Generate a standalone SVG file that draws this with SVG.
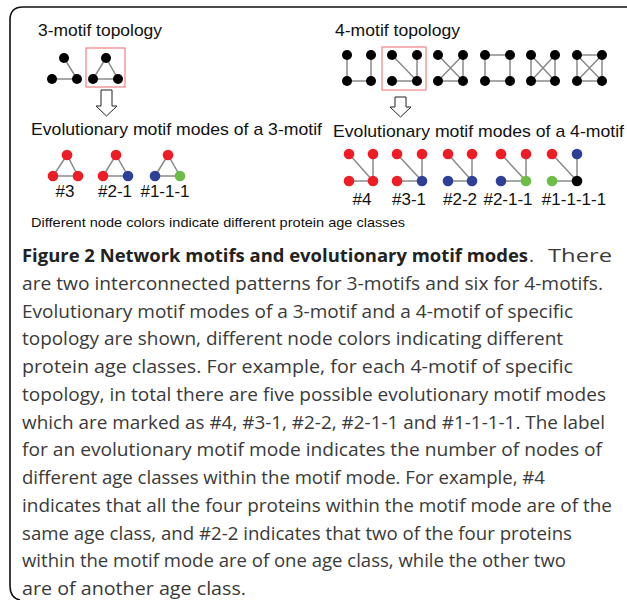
<svg xmlns="http://www.w3.org/2000/svg" width="627" height="600" viewBox="0 0 627 600">
<style>
.lbl{font-family:"Liberation Sans",Arial,sans-serif;font-size:17px;fill:#111}
.sm{font-family:"Liberation Sans",Arial,sans-serif;font-size:13px;fill:#111}
.cap{font-family:"Open Sans","Noto Sans",sans-serif;font-size:19px;fill:#3a3a3a}
.b{font-weight:bold;fill:#222;font-size:18.5px}
.e{stroke:#8a8a8a;stroke-width:1.5;fill:none}
.n{fill:#000}
.r{fill:#ee1c24}
.bl{fill:#2e3f97}
.g{fill:#6cbd45}
.k{fill:#000}
.box{fill:none;stroke:#f08080;stroke-width:1.2}
.arr{fill:#fff;stroke:#222;stroke-width:1}
</style>
<path d="M627 7 H23 Q10 7 10 20 V586 Q10 598 20 600" fill="none" stroke="#111" stroke-width="1.6"/>

<text class="lbl" x="38" y="36" textLength="124" lengthAdjust="spacingAndGlyphs">3-motif topology</text>
<text class="lbl" x="335" y="36" textLength="125" lengthAdjust="spacingAndGlyphs">4-motif topology</text>
<rect class="box" x="86" y="48" width="39" height="39"/>
<rect class="box" x="382" y="47" width="44" height="43"/>
<path class="arr" d="M101 90 H112 V106 H117 L106.5 116 L96 106 H101 Z"/>
<path class="arr" d="M395 97 H406 V107 H411 L400.5 117 L390 107 H395 Z"/>
<text class="lbl" x="31" y="135" textLength="291" lengthAdjust="spacingAndGlyphs">Evolutionary motif modes of a 3-motif</text>
<text class="lbl" x="333" y="137" textLength="291" lengthAdjust="spacingAndGlyphs">Evolutionary motif modes of a 4-motif</text>

<g id="connectors">
<path class="e" d="M64 58 L77 79 M52 79 H77"/>
<path class="e" d="M106 58 L93 79 H118 Z"/>
<path class="e" d="M347 55 V81 H371 V55"/>
<path class="e" d="M392 55 L417 81 M417 55 V81 H392"/>
<path class="e" d="M438 55 L463 81 M463 55 L438 81 M463 55 V81 H438"/>
<path class="e" d="M485 55 H510 V81 H485 Z"/>
<path class="e" d="M531 55 L555 81 M555 55 L531 81 M531 55 V81 H555 V55"/>
<path class="e" d="M577 55 H602 V81 H577 Z M577 55 L602 81 M602 55 L577 81"/>
<path class="e" d="M67 155 L53 176 H78 Z"/>
<path class="e" d="M116 155 L103 176 H128 Z"/>
<path class="e" d="M168 155 L155 176 H180 Z"/>
<path class="e" d="M349 154 L373 181 M373 154 V181 H349"/>
<path class="e" d="M397 154 L422 181 M422 154 V181 H397"/>
<path class="e" d="M448 154 L472 181 M472 154 V181 H448"/>
<path class="e" d="M501 154 L526 181 M526 154 V181 H501"/>
<path class="e" d="M552 154 L577 181 M577 154 V181 H552"/>
</g>

<g id="t3a" class="n"><circle cx="64" cy="58" r="5"/><circle cx="52" cy="79" r="5"/><circle cx="77" cy="79" r="5"/></g>
<g id="t3b" class="n"><circle cx="106" cy="58" r="5"/><circle cx="93" cy="79" r="5"/><circle cx="118" cy="79" r="5"/></g>
<g id="t4a" class="n"><circle cx="347" cy="55" r="5"/><circle cx="371" cy="55" r="5"/><circle cx="347" cy="81" r="5"/><circle cx="371" cy="81" r="5"/></g>
<g id="t4b" class="n"><circle cx="392" cy="55" r="5"/><circle cx="417" cy="55" r="5"/><circle cx="392" cy="81" r="5"/><circle cx="417" cy="81" r="5"/></g>
<g id="t4c" class="n"><circle cx="438" cy="55" r="5"/><circle cx="463" cy="55" r="5"/><circle cx="438" cy="81" r="5"/><circle cx="463" cy="81" r="5"/></g>
<g id="t4d" class="n"><circle cx="485" cy="55" r="5"/><circle cx="510" cy="55" r="5"/><circle cx="485" cy="81" r="5"/><circle cx="510" cy="81" r="5"/></g>
<g id="t4e" class="n"><circle cx="531" cy="55" r="5"/><circle cx="555" cy="55" r="5"/><circle cx="531" cy="81" r="5"/><circle cx="555" cy="81" r="5"/></g>
<g id="t4f" class="n"><circle cx="577" cy="55" r="5"/><circle cx="602" cy="55" r="5"/><circle cx="577" cy="81" r="5"/><circle cx="602" cy="81" r="5"/></g>

<g id="m3a"><circle class="r" cx="67" cy="155" r="5.3"/><circle class="r" cx="53" cy="176" r="5.3"/><circle class="r" cx="78" cy="176" r="5.3"/><text class="lbl" x="65" y="197" text-anchor="middle">#3</text></g>
<g id="m3b"><circle class="r" cx="116" cy="155" r="5.3"/><circle class="r" cx="103" cy="176" r="5.3"/><circle class="bl" cx="128" cy="176" r="5.3"/><text class="lbl" x="115" y="197" text-anchor="middle">#2-1</text></g>
<g id="m3c"><circle class="r" cx="168" cy="155" r="5.3"/><circle class="bl" cx="155" cy="176" r="5.3"/><circle class="g" cx="180" cy="176" r="5.3"/><text class="lbl" x="165" y="197" text-anchor="middle">#1-1-1</text></g>

<g id="m4a"><circle class="r" cx="349" cy="154" r="5.3"/><circle class="r" cx="373" cy="154" r="5.3"/><circle class="r" cx="349" cy="181" r="5.3"/><circle class="r" cx="373" cy="181" r="5.3"/><text class="lbl" x="362" y="205" text-anchor="middle">#4</text></g>
<g id="m4b"><circle class="r" cx="397" cy="154" r="5.3"/><circle class="r" cx="422" cy="154" r="5.3"/><circle class="r" cx="397" cy="181" r="5.3"/><circle class="bl" cx="422" cy="181" r="5.3"/><text class="lbl" x="409" y="205" text-anchor="middle">#3-1</text></g>
<g id="m4c"><circle class="r" cx="448" cy="154" r="5.3"/><circle class="r" cx="472" cy="154" r="5.3"/><circle class="bl" cx="448" cy="181" r="5.3"/><circle class="bl" cx="472" cy="181" r="5.3"/><text class="lbl" x="460" y="205" text-anchor="middle">#2-2</text></g>
<g id="m4d"><circle class="r" cx="501" cy="154" r="5.3"/><circle class="r" cx="526" cy="154" r="5.3"/><circle class="bl" cx="501" cy="181" r="5.3"/><circle class="g" cx="526" cy="181" r="5.3"/><text class="lbl" x="508" y="205" text-anchor="middle">#2-1-1</text></g>
<g id="m4e"><circle class="r" cx="552" cy="154" r="5.3"/><circle class="bl" cx="577" cy="154" r="5.3"/><circle class="g" cx="552" cy="181" r="5.3"/><circle class="k" cx="577" cy="181" r="5.3"/><text class="lbl" x="574" y="205" text-anchor="middle">#1-1-1-1</text></g>

<text class="sm" x="31" y="227" textLength="374" lengthAdjust="spacingAndGlyphs">Different node colors indicate different protein age classes</text>

<g class="cap">
<text class="b" x="22" y="262" textLength="506" lengthAdjust="spacingAndGlyphs">Figure 2 Network motifs and evolutionary motif modes</text>
<text x="529" y="262">.</text>
<text x="548" y="262" textLength="64" lengthAdjust="spacingAndGlyphs">There</text>
<text x="22" y="290" textLength="581" lengthAdjust="spacingAndGlyphs">are two interconnected patterns for 3-motifs and six for 4-motifs.</text>
<text x="22" y="318" textLength="551" lengthAdjust="spacingAndGlyphs">Evolutionary motif modes of a 3-motif and a 4-motif of specific</text>
<text x="22" y="345" textLength="541" lengthAdjust="spacingAndGlyphs">topology are shown, different node colors indicating different</text>
<text x="22" y="373" textLength="551" lengthAdjust="spacingAndGlyphs">protein age classes. For example, for each 4-motif of specific</text>
<text x="22" y="401" textLength="584" lengthAdjust="spacingAndGlyphs">topology, in total there are five possible evolutionary motif modes</text>
<text x="22" y="429" textLength="583" lengthAdjust="spacingAndGlyphs">which are marked as #4, #3-1, #2-2, #2-1-1 and #1-1-1-1. The label</text>
<text x="22" y="456" textLength="580" lengthAdjust="spacingAndGlyphs">for an evolutionary motif mode indicates the number of nodes of</text>
<text x="22" y="484" textLength="523" lengthAdjust="spacingAndGlyphs">different age classes within the motif mode. For example, #4</text>
<text x="22" y="512" textLength="590" lengthAdjust="spacingAndGlyphs">indicates that all the four proteins within the motif mode are of the</text>
<text x="22" y="540" textLength="550" lengthAdjust="spacingAndGlyphs">same age class, and #2-2 indicates that two of the four proteins</text>
<text x="22" y="567" textLength="544" lengthAdjust="spacingAndGlyphs">within the motif mode are of one age class, while the other two</text>
<text x="22" y="595" textLength="224" lengthAdjust="spacingAndGlyphs">are of another age class.</text>
</g>
</svg>
